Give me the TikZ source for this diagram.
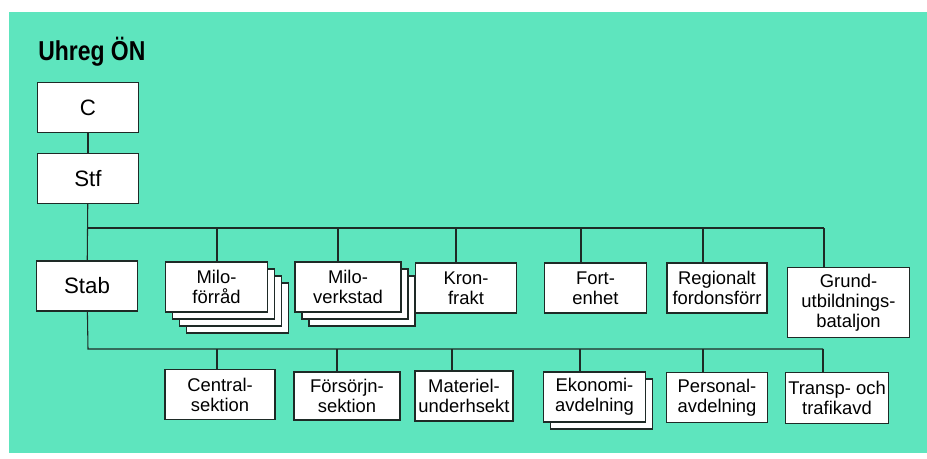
\documentclass[tikz,border=0pt]{standalone}
\usepackage{fontspec}
\setmainfont{Liberation Sans}
\newfontfamily\titlefont[FakeStretch=0.84]{Liberation Sans}
\usepackage{xcolor}
\usetikzlibrary{shadows}
\definecolor{uhmint}{RGB}{94,229,190}
\definecolor{uhline}{HTML}{1E2A26}

\begin{document}
\begin{tikzpicture}[
  x=0.75pt, y=-0.75pt,
  unit/.style={
    rectangle, draw=uhline, fill=white, line width=0.9pt,
    minimum width=76pt, minimum height=37.5pt, inner sep=2pt,
    align=center, font=\fontsize{13.8}{15}\selectfont
  },
  head/.style={unit, font=\fontsize{16.7}{19}\selectfont},
  stack/.style={copy shadow={shadow xshift=#1, shadow yshift=-#1,
    draw=uhline, fill=white}},
  link/.style={draw=uhline, line width=0.8pt},
]

% panel
\useasboundingbox (0,0) rectangle (927,458);
\fill[white] (0,0) rectangle (927,458);
\fill[uhmint] (9,12) rectangle (927,453);

\node[anchor=base west, inner sep=0pt,
  font=\titlefont\bfseries\fontsize{20.5}{22}\selectfont] (title) at (38,60) {Uhreg ÖN};

% chief and staff
\node[head] (cbox) at (88,107.5) {C};
\node[head] (stf) at (88,178.5) {Stf};
\node[head] (stab) at (87,286) {Stab};

% upper row
\node[unit, stack=15.75pt, stack=10.5pt, stack=5.25pt] (mfr) at (216.5,287) {Milo-\\förråd};
\node[unit, minimum width=79.5pt, stack=10.5pt, stack=5.25pt] (mvs) at (348,287) {Milo-\\verkstad};
\node[unit] (kron) at (466,288) {Kron-\\frakt};
\node[unit, minimum width=77pt] (fort) at (595.5,288) {Fort-\\enhet};
\node[unit, minimum width=75pt] (reg) at (717,288) {Regionalt\\fordonsförr};
\node[unit, minimum width=92pt, minimum height=53pt] (grund) at (848.5,302.5) {Grund-\\utbildnings-\\bataljon};

% lower row
\node[unit, minimum width=82.5pt, minimum height=38pt] (cent) at (220,394.5) {Central-\\sektion};
\node[unit, minimum width=79.5pt, minimum height=36pt] (fors) at (347,396) {Försörjn-\\sektion};
\node[unit, minimum width=73.5pt] (mat) at (464,396) {Materiel-\\underhsekt};
\node[unit, stack=5.25pt] (eko) at (594.5,397) {Ekonomi-\\avdelning};
\node[unit] (pers) at (717,397.5) {Personal-\\avdelning};
\node[unit, minimum width=75pt, minimum height=38pt] (trans) at (837,398) {Transp- och\\trafikavd};

% connectors
\coordinate (tbus) at (88,228);
\coordinate (bbus) at (88,349);
\draw[link] (cbox) -- (stf);
\draw[link] (stf) -- (stab);
\draw[link] (tbus) -- (824,228);
\foreach \cx/\nd in {217/mfr, 338/mvs, 456/kron, 581/fort, 703/reg, 824/grund}
  \draw[link] (\cx,228) -- (\cx,0 |- \nd.north);
\draw[link] (stab) -- (bbus) -- (823,349);
\foreach \cx/\nd in {217/cent, 337/fors, 452/mat, 580/eko, 703/pers, 823/trans}
  \draw[link] (\cx,349) -- (\cx,0 |- \nd.north);

\end{tikzpicture}
\end{document}
